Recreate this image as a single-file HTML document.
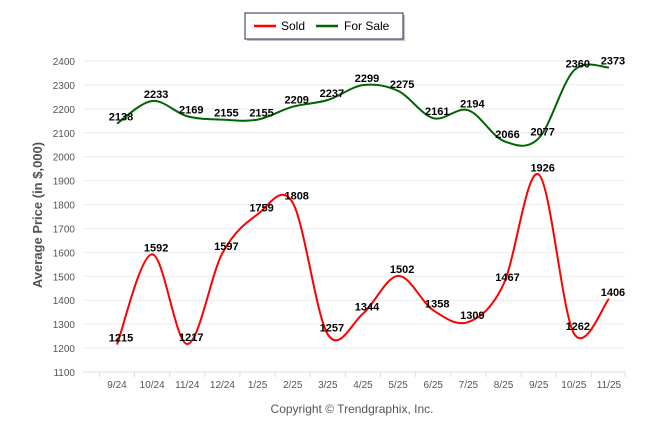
<!DOCTYPE html>
<html><head><meta charset="utf-8"><style>
body{margin:0;background:#fff;width:646px;height:434px;overflow:hidden;font-family:"Liberation Sans",sans-serif}
</style></head><body>
<svg id="chart" width="646" height="434" xmlns="http://www.w3.org/2000/svg" font-family="Liberation Sans, sans-serif">
<g>
<rect x="247" y="15" width="158" height="26" fill="#999" opacity="0.6"/>
<rect x="245" y="13" width="158" height="26" fill="#fff" stroke="#1f2d52" stroke-width="1"/>
<line x1="254" y1="26" x2="276" y2="26" stroke="#f00" stroke-width="2.5"/>
<text x="281" y="30" font-size="12" fill="#000">Sold</text>
<line x1="316" y1="26" x2="338" y2="26" stroke="#006400" stroke-width="2.5"/>
<text x="344" y="30" font-size="12" fill="#000">For Sale</text>
</g>
<text transform="translate(42,215) rotate(-90)" text-anchor="middle" font-size="13" font-weight="bold" fill="#555">Average Price (in $,000)</text>
<text x="352" y="413" text-anchor="middle" font-size="12" fill="#555">Copyright © Trendgraphix, Inc.</text>
<g id="grid"></g><g id="series"></g><g id="labels"></g>
</svg>
<script>
const months=["9/24","10/24","11/24","12/24","1/25","2/25","3/25","4/25","5/25","6/25","7/25","8/25","9/25","10/25","11/25"];
const sold=[1215,1592,1217,1597,1759,1808,1257,1344,1502,1358,1309,1467,1926,1262,1406];
const forSale=[2138,2233,2169,2155,2155,2209,2237,2299,2275,2161,2194,2066,2077,2360,2373];
const yTicks=[1100,1200,1300,1400,1500,1600,1700,1800,1900,2000,2100,2200,2300,2400];
const NS="http://www.w3.org/2000/svg";
const L=83,R=625;
const X=i=>117+i*35.14;
const Y=v=>372-(v-1100)*(311/1300);
function mk(t,a,p){const e=document.createElementNS(NS,t);for(const k in a)e.setAttribute(k,a[k]);p.appendChild(e);return e;}
const grid=document.getElementById('grid'),ser=document.getElementById('series'),lab=document.getElementById('labels');
yTicks.forEach(v=>{
 const l=mk('line',{x1:L,x2:R,y1:Y(v),y2:Y(v),stroke:v===1100?'#ddd':'#ececec','stroke-width':1},grid);
 
 
 const t=mk('text',{x:75,y:Y(v)+4,'text-anchor':'end','font-size':10,fill:'#555'},grid);t.textContent=v;
 
 
});
months.forEach((m,i)=>{
 mk('line',{x1:X(i)-17.6,x2:X(i)-17.6,y1:372,y2:377,stroke:'#ddd'},grid);
 const t=mk('text',{x:X(i),y:388,'text-anchor':'middle','font-size':10,fill:'#555'},grid);t.textContent=m;
 
 
});
mk('line',{x1:R,x2:R,y1:372,y2:377,stroke:'#ddd'},grid);
function path(vals){
 const p=vals.map((v,i)=>[X(i),Y(v)]);let d='M'+p[0][0]+','+p[0][1];
 for(let i=0;i<p.length-1;i++){const p0=p[Math.max(0,i-1)],p1=p[i],p2=p[i+1],p3=p[Math.min(p.length-1,i+2)];const k=1/6;
 d+=' C'+(p1[0]+(p2[0]-p0[0])*k)+','+(p1[1]+(p2[1]-p0[1])*k)+' '+(p2[0]-(p3[0]-p1[0])*k)+','+(p2[1]-(p3[1]-p1[1])*k)+' '+p2[0]+','+p2[1];}
 return d;}
const gs=mk('path',{d:path(forSale),fill:'none',stroke:'#006400','stroke-width':2},ser);


const rs=mk('path',{d:path(sold),fill:'none',stroke:'#f00','stroke-width':2},ser);


[sold,forSale].forEach(arr=>arr.forEach((v,i)=>{
 const t=mk('text',{x:X(i)+4,y:Y(v)-3,'text-anchor':'middle','font-size':11,'font-weight':'bold',fill:'#000'},lab);t.textContent=v;
 
 
}));
</script>
</body></html>
